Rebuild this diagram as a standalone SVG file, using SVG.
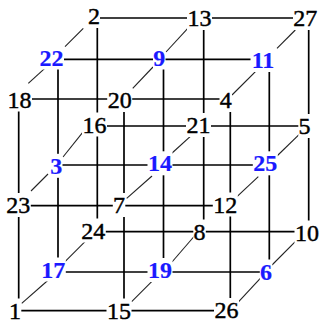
<svg xmlns="http://www.w3.org/2000/svg" width="324" height="331" viewBox="0 0 324 331">
<style>
.o{stroke:#000;stroke-width:1.7;fill:none}
.d{stroke:#222;stroke-width:1.1;fill:none}
.h{fill:#fff}
text{font-family:"Liberation Serif","Times New Roman",serif;font-size:24px;text-anchor:middle;fill:#000;stroke:#000;stroke-width:0.45}
.b{fill:#1a1aff;stroke:#1a1aff;stroke-width:0.2;font-weight:bold}
</style>
<rect width="324" height="331" fill="#fff"/>
<g id="connectors">
<!-- front layer -->
<line class="o" x1="18.7" y1="99" x2="230.3" y2="99"/>
<line class="o" x1="18.7" y1="205.7" x2="230.3" y2="205.7"/>
<line class="o" x1="18.7" y1="310.7" x2="230.3" y2="310.7"/>
<line class="o" x1="18.7" y1="99" x2="18.7" y2="310.7"/>
<line class="o" x1="124" y1="99" x2="124" y2="310.7"/>
<line class="o" x1="230.3" y1="99" x2="230.3" y2="310.7"/>
<!-- middle layer -->
<line class="o" x1="58" y1="59.3" x2="269.3" y2="59.3"/>
<line class="o" x1="58" y1="165" x2="269.3" y2="165"/>
<line class="o" x1="58" y1="272" x2="269.3" y2="272"/>
<line class="o" x1="58" y1="59.3" x2="58" y2="272"/>
<line class="o" x1="163.5" y1="59.3" x2="163.5" y2="272"/>
<line class="o" x1="269.3" y1="59.3" x2="269.3" y2="272"/>
<!-- back layer -->
<line class="o" x1="97.3" y1="18" x2="308.7" y2="18"/>
<line class="o" x1="97.3" y1="126" x2="308.7" y2="126"/>
<line class="o" x1="97.3" y1="231.7" x2="308.7" y2="231.7"/>
<line class="o" x1="97.3" y1="18" x2="97.3" y2="231.7"/>
<line class="o" x1="203.7" y1="18" x2="203.7" y2="231.7"/>
<line class="o" x1="308.7" y1="18" x2="308.7" y2="231.7"/>
<!-- depth diagonals -->
<line class="d" x1="83.3" y1="28.3" x2="65" y2="46.7"/>
<line class="d" x1="46.7" y1="66.7" x2="28.3" y2="83.3"/>
<line class="d" x1="188.7" y1="27.3" x2="166" y2="52"/>
<line class="d" x1="153" y1="67" x2="132.7" y2="88.3"/>
<line class="d" x1="295.3" y1="30" x2="277" y2="48.3"/>
<line class="d" x1="258.7" y1="68.3" x2="232" y2="95"/>
<line class="d" x1="83.3" y1="131.7" x2="63" y2="157"/>
<line class="d" x1="48" y1="174" x2="31" y2="191"/>
<line class="d" x1="193.7" y1="133.3" x2="171" y2="154"/>
<line class="d" x1="152" y1="176" x2="126.7" y2="198.3"/>
<line class="d" x1="300.3" y1="133.3" x2="277" y2="156"/>
<line class="d" x1="258.3" y1="176.7" x2="237" y2="196.7"/>
<line class="d" x1="85" y1="241.7" x2="65" y2="261.7"/>
<line class="d" x1="48.3" y1="280" x2="21.7" y2="303.3"/>
<line class="d" x1="195.3" y1="235" x2="172" y2="262"/>
<line class="d" x1="151.7" y1="281.7" x2="131.7" y2="301.7"/>
<line class="d" x1="295.3" y1="241.7" x2="272" y2="265"/>
<line class="d" x1="260.3" y1="278.3" x2="238.7" y2="301.7"/>
</g>
<g id="n2"><rect class="h" x="88" y="4" width="12" height="24"/><text x="94" y="24">2</text></g>
<g id="n13"><rect class="h" x="187" y="6" width="25" height="24"/><text x="199.5" y="26">13</text></g>
<g id="n27"><rect class="h" x="293" y="6" width="25" height="24"/><text x="305.3" y="26">27</text></g>
<g id="n22"><rect class="h" x="39" y="45.5" width="25" height="24"/><text class="b" x="51.5" y="65.5">22</text></g>
<g id="n9"><rect class="h" x="153" y="45.5" width="12.5" height="24"/><text class="b" x="159.2" y="65.5">9</text></g>
<g id="n11"><rect class="h" x="250.5" y="48" width="25" height="24"/><text class="b" x="263" y="68">11</text></g>
<g id="n18"><rect class="h" x="7" y="87.5" width="25" height="24"/><text x="19.5" y="107.5">18</text></g>
<g id="n20"><rect class="h" x="107.2" y="88" width="25" height="24"/><text x="119.7" y="108">20</text></g>
<g id="n4"><rect class="h" x="219.5" y="88" width="12.5" height="24"/><text x="225.7" y="108">4</text></g>
<g id="n16"><rect class="h" x="82" y="112.5" width="25" height="24"/><text x="94.5" y="132.5">16</text></g>
<g id="n21"><rect class="h" x="186" y="113" width="25" height="24"/><text x="198.5" y="133">21</text></g>
<g id="n5"><rect class="h" x="298.3" y="114" width="12.5" height="24"/><text x="304.5" y="134">5</text></g>
<g id="n3"><rect class="h" x="50" y="153.8" width="12.5" height="24"/><text class="b" x="56.2" y="173.8">3</text></g>
<g id="n14"><rect class="h" x="147.5" y="151.3" width="25" height="24"/><text class="b" x="160" y="171.3">14</text></g>
<g id="n25"><rect class="h" x="252.8" y="151.3" width="25" height="24"/><text class="b" x="265.3" y="171.3">25</text></g>
<g id="n23"><rect class="h" x="5.8" y="193" width="25" height="24"/><text x="18.3" y="213">23</text></g>
<g id="n7"><rect class="h" x="112.8" y="193" width="12.5" height="24"/><text x="119" y="213">7</text></g>
<g id="n12"><rect class="h" x="212.8" y="192.5" width="25" height="24"/><text x="225.3" y="212.5">12</text></g>
<g id="n24"><rect class="h" x="80.8" y="218.5" width="25" height="24"/><text x="93.3" y="238.5">24</text></g>
<g id="n8"><rect class="h" x="193.3" y="219.5" width="12.5" height="24"/><text x="199.5" y="239.5">8</text></g>
<g id="n10"><rect class="h" x="294.5" y="220.5" width="25" height="24"/><text x="307" y="240.5">10</text></g>
<g id="n17"><rect class="h" x="40.8" y="257.5" width="25" height="24"/><text class="b" x="53.3" y="277.5">17</text></g>
<g id="n19"><rect class="h" x="147.5" y="258" width="25" height="24"/><text class="b" x="160" y="278">19</text></g>
<g id="n6"><rect class="h" x="259.8" y="259.5" width="12.5" height="24"/><text class="b" x="266" y="279.5">6</text></g>
<g id="n1"><rect class="h" x="8.8" y="298.5" width="12.5" height="24"/><text x="15" y="318.5">1</text></g>
<g id="n15"><rect class="h" x="106.5" y="298.5" width="25" height="24"/><text x="119" y="318.5">15</text></g>
<g id="n26"><rect class="h" x="214" y="298" width="25" height="24"/><text x="226.5" y="318">26</text></g>
</svg>
